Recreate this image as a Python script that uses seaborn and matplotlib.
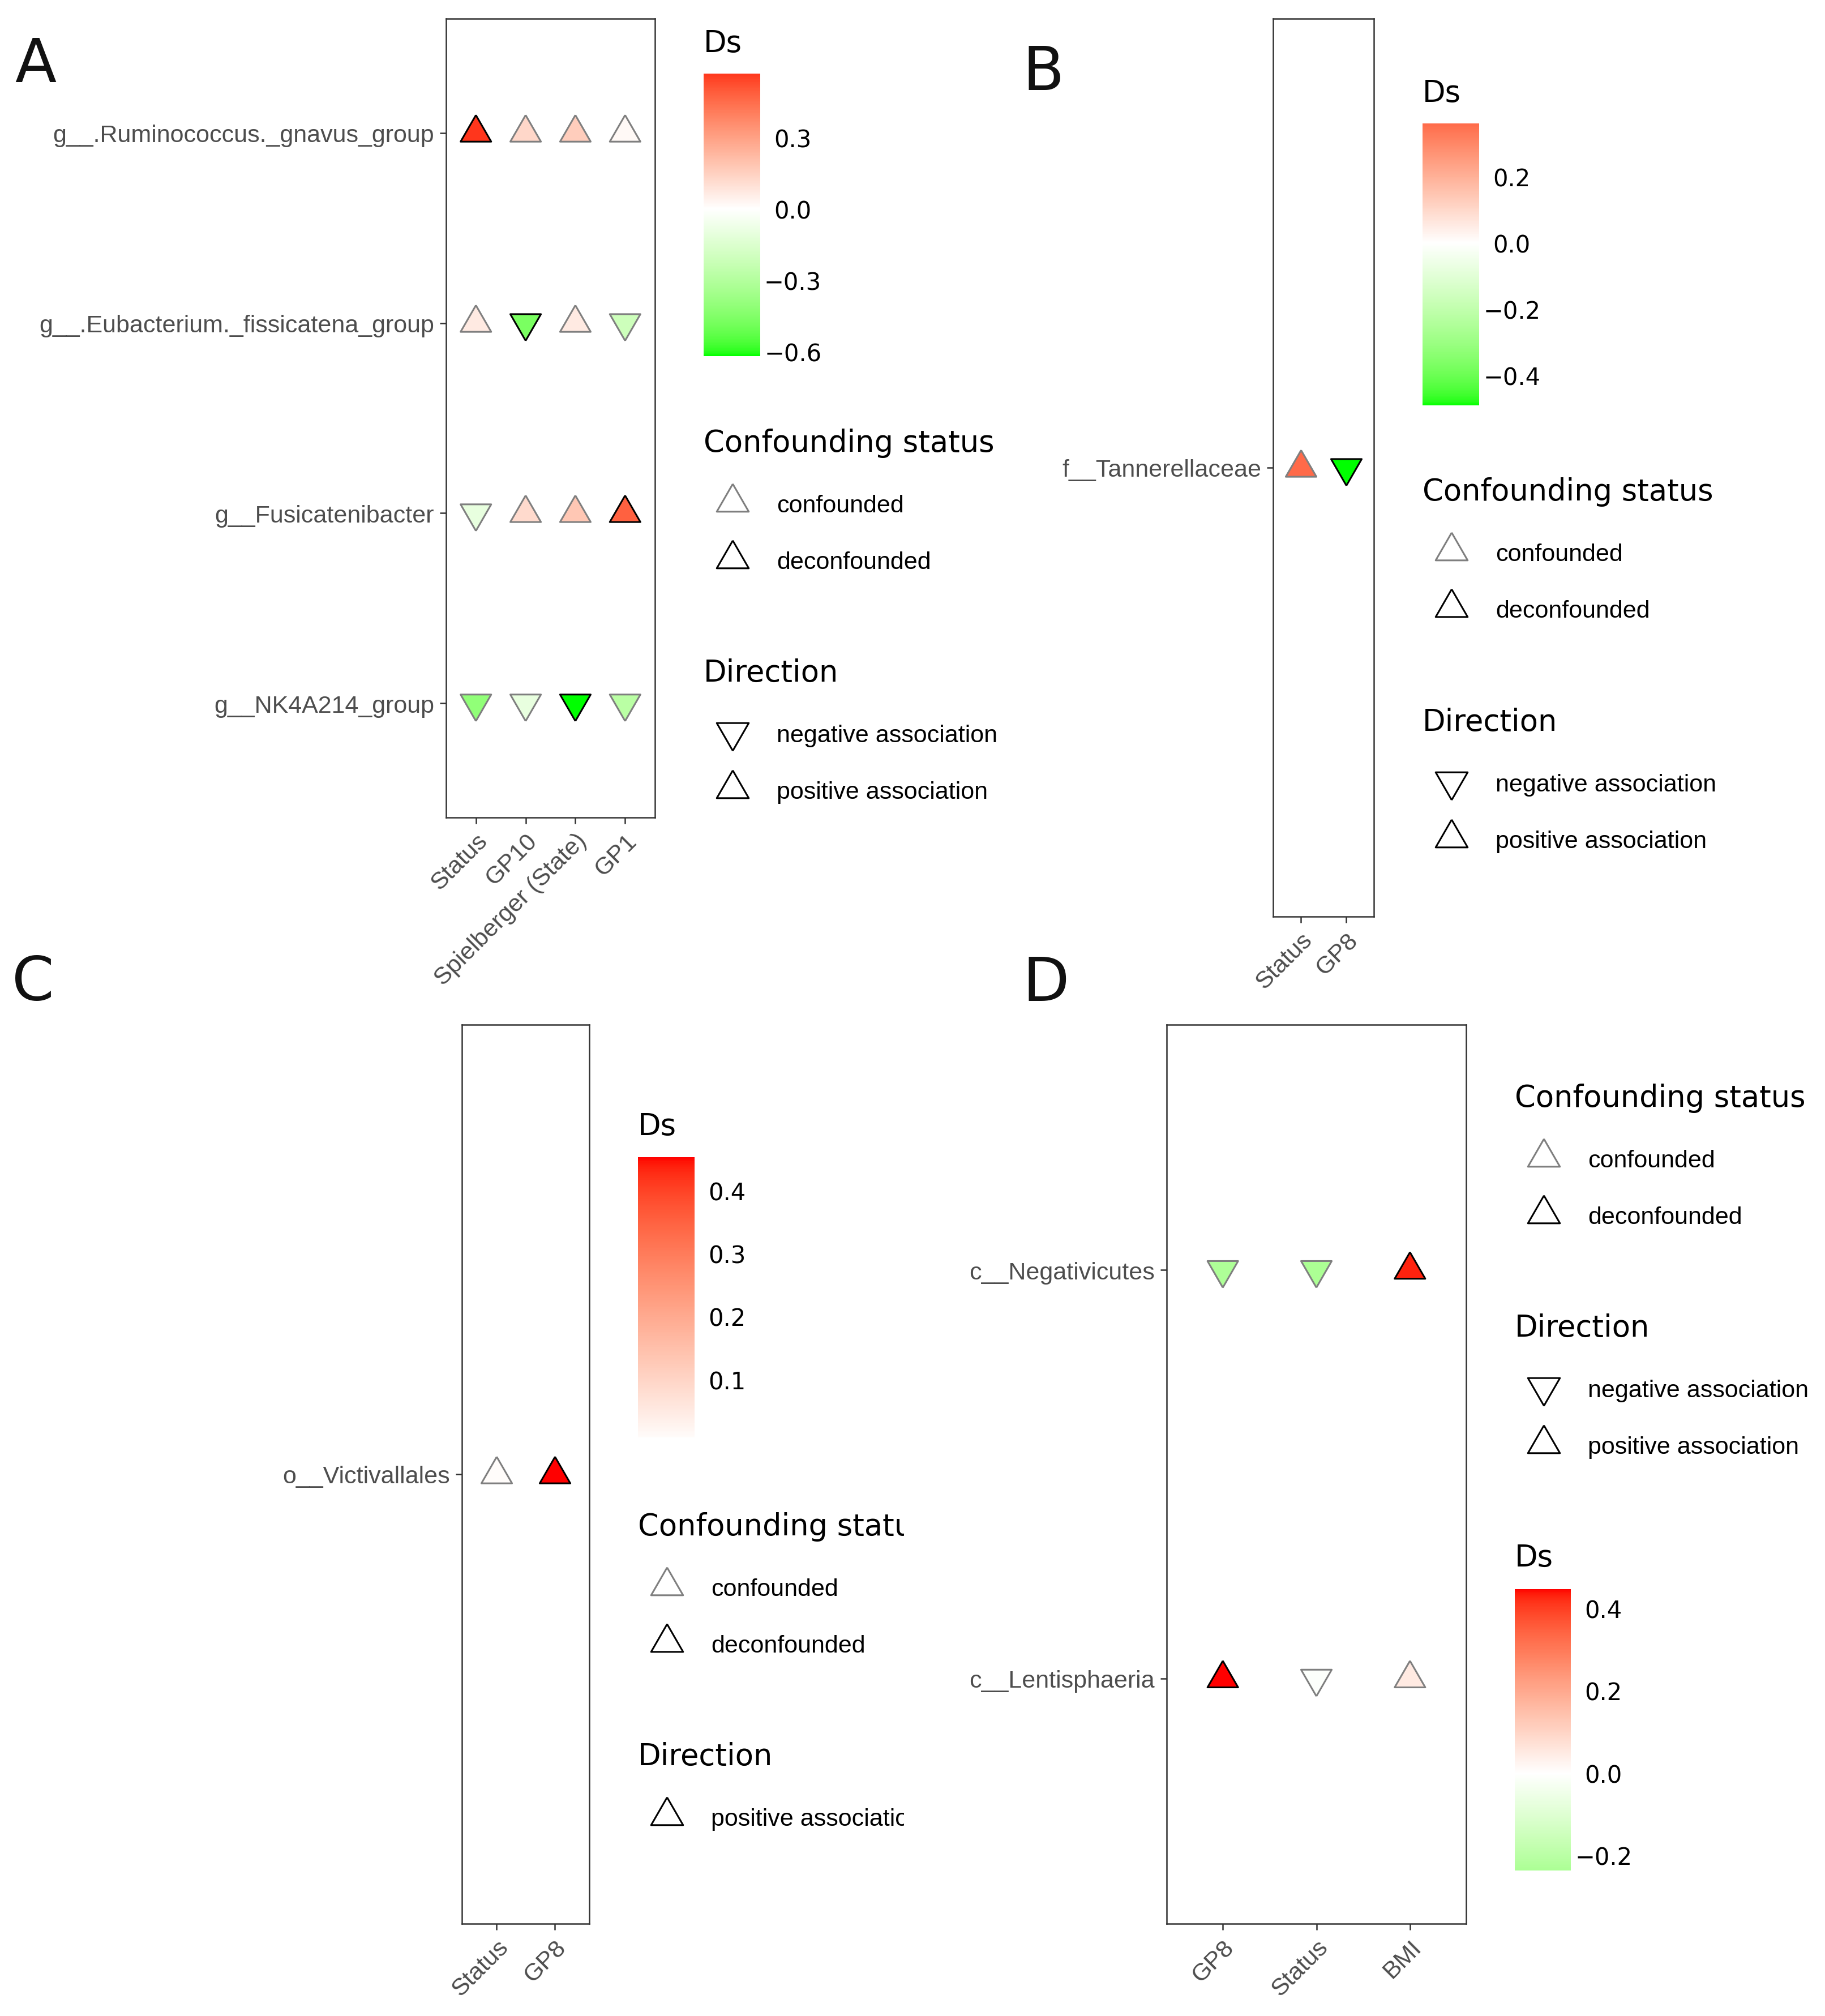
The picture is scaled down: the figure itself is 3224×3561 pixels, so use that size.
import numpy as np
import pandas as pd
import matplotlib
matplotlib.use("Agg")
import matplotlib.pyplot as plt
import seaborn as sns
from matplotlib.colors import ListedColormap, Normalize
from matplotlib.lines import Line2D
from matplotlib.transforms import Bbox
import matplotlib.cm as cm

# ---------------- data ----------------
A_covariates = ["Status", "GP10", "Spielberger (State)", "GP1"]
A_taxa = ["g__.Ruminococcus._gnavus_group", "g__.Eubacterium._fissicatena_group",
          "g__Fusicatenibacter", "g__NK4A214_group"]
A_ruminococcus = [0.57, 0.13, 0.16, 0.02]
A_eubacterium = [0.07, -0.47, 0.07, -0.21]
A_fusicatenibacter = [-0.10, 0.12, 0.18, 0.48]
A_nk4a214 = [-0.41, -0.10, -0.62, -0.28]
A_deconfounded = [[True, False, False, False], [False, True, False, False],
                  [False, False, False, True], [False, False, True, False]]
A_cbar_ticks = [-0.6, -0.3, 0.0, 0.3]

B_covariates = ["Status", "GP8"]
B_taxa = ["f__Tannerellaceae"]
B_tannerellaceae = [0.36, -0.49]
B_deconfounded = [[False, True]]
B_cbar_ticks = [-0.4, -0.2, 0.0, 0.2]

C_covariates = ["Status", "GP8"]
C_taxa = ["o__Victivallales"]
C_victivallales = [0.008, 0.453]
C_deconfounded = [[False, True]]
C_cbar_ticks = [0.1, 0.2, 0.3, 0.4]

D_covariates = ["GP8", "Status", "BMI"]
D_taxa = ["c__Negativicutes", "c__Lentisphaeria"]
D_negativicutes = [-0.23, -0.237, 0.43]
D_lentisphaeria = [0.447, -0.01, 0.05]
D_deconfounded = [[False, False, True], [True, False, False]]
D_cbar_ticks = [-0.2, 0.0, 0.2, 0.4]

# ---------------- colour map (Lab interpolation like ggplot gradient2) ----------------
_M = np.array([[0.4124564, 0.3575761, 0.1804375],
               [0.2126729, 0.7151522, 0.0721750],
               [0.0193339, 0.1191920, 0.9503041]])
_WHITE = np.array([0.95047, 1.0, 1.08883])
_D = 6 / 29


def _rgb2lab(rgb):
    c = np.asarray(rgb, float)
    lin = np.where(c <= 0.04045, c / 12.92, ((c + 0.055) / 1.055) ** 2.4)
    xyz = lin @ _M.T / _WHITE
    f = np.where(xyz > _D ** 3, np.cbrt(xyz), xyz / (3 * _D * _D) + 4 / 29)
    return np.stack([116 * f[..., 1] - 16, 500 * (f[..., 0] - f[..., 1]),
                     200 * (f[..., 1] - f[..., 2])], axis=-1)


def _lab2rgb(lab):
    L, a, b = lab[..., 0], lab[..., 1], lab[..., 2]
    fy = (L + 16) / 116
    fx = fy + a / 500
    fz = fy - b / 200
    f = np.stack([fx, fy, fz], axis=-1)
    xyz = np.where(f > _D, f ** 3, 3 * _D * _D * (f - 4 / 29)) * _WHITE
    lin = xyz @ np.linalg.inv(_M).T
    lin = np.clip(lin, 0, 1)
    c = np.where(lin <= 0.0031308, 12.92 * lin, 1.055 * lin ** (1 / 2.4) - 0.055)
    return np.clip(c, 0, 1)


_stops = np.array([0.0, 0.5, 1.0])
_labs = _rgb2lab(np.array([[0, 1, 0], [1, 1, 1], [1, 0, 0]]))
_t = np.linspace(0, 1, 512)
_lab_ramp = np.stack([np.interp(_t, _stops, _labs[:, k]) for k in range(3)], axis=-1)
CMAP = ListedColormap(_lab2rgb(_lab_ramp))

# ---------------- figure ----------------
W, H = 3224, 3562
sns.set_theme(style="white")
plt.rcParams["font.family"] = ["Liberation Sans", "DejaVu Sans"]
fig = plt.figure(figsize=(W / 100, H / 100), dpi=100)
fig.patch.set_facecolor("white")

TRI_UP = np.array([[0, 1], [-0.8660254, -0.5], [0.8660254, -0.5], [0, 1]])
TRI_DOWN = np.array([[0, -1], [0.8660254, 0.5], [-0.8660254, 0.5], [0, -1]])
MARKERS = {"positive association": TRI_UP, "negative association": TRI_DOWN}
DIR_ORDER = ["negative association", "positive association"]
GREY = "#7F7F7F"
AX_COL = "#333333"
TICK_TXT = "#4D4D4D"
TITLE_FONT = "DejaVu Sans"


def fx(x):
    return x / W


def fy(y):
    return 1 - y / H


def rect(l, t, r, b):
    return [l / W, 1 - b / H, (r - l) / W, (b - t) / H]


def long_df(taxa, covariates, rows, deconf):
    recs = []
    for taxon, vals, dec in zip(taxa, rows, deconf):
        for cov, v, d in zip(covariates, vals, dec):
            recs.append(dict(taxon=taxon, covariate=cov, Ds=v,
                             status="deconfounded" if d else "confounded",
                             direction="positive association" if v > 0 else "negative association"))
    df = pd.DataFrame(recs)
    df["taxon"] = pd.Categorical(df["taxon"], categories=taxa[::-1])
    df["covariate"] = pd.Categorical(df["covariate"], categories=covariates)
    return df


def draw_panel(df, ax_px):
    ax = fig.add_axes(rect(*ax_px))
    m = df["Ds"].abs().max()
    norm = Normalize(-m, m)
    for status, edge in [("confounded", GREY), ("deconfounded", "black")]:
        sub = df[df["status"] == status]
        if len(sub) == 0:
            continue
        sns.scatterplot(data=sub, x="covariate", y="taxon", hue="Ds", hue_norm=norm,
                        palette=CMAP, style="direction", markers=MARKERS,
                        style_order=DIR_ORDER, s=2025, edgecolor=edge, linewidth=2.2,
                        legend=False, ax=ax, zorder=3)
    nx = len(df["covariate"].cat.categories)
    ny = len(df["taxon"].cat.categories)
    ax.set_xlim(-0.6, nx - 0.4)
    ax.set_ylim(-0.6, ny - 0.4)
    ax.set_xlabel("")
    ax.set_ylabel("")
    ax.grid(False)
    for sp in ax.spines.values():
        sp.set_visible(True)
        sp.set_color(AX_COL)
        sp.set_linewidth(1.8)
    ax.tick_params(axis="both", length=8, width=1.8, color=AX_COL, labelsize=31,
                   labelcolor=TICK_TXT, pad=7, bottom=True, left=True)
    for lab in ax.get_xticklabels():
        lab.set_rotation(45)
        lab.set_ha("right")
        lab.set_va("top")
        lab.set_rotation_mode("anchor")
    return norm, df["Ds"].min(), df["Ds"].max()


def draw_cbar(norm, lo, hi, ticks, cb_px, clip=None):
    cax = fig.add_axes(rect(*cb_px))
    sm = cm.ScalarMappable(norm=norm, cmap=CMAP)
    cb = fig.colorbar(sm, cax=cax, boundaries=np.linspace(lo, hi, 400), ticks=ticks)
    cb.outline.set_visible(False)
    cax.tick_params(direction="in", length=14.4, width=0.9, color="white",
                    left=True, right=True, labelsize=30, pad=41.5)
    cax.set_yticklabels([f"{v:.1f}".replace("-", "\u2212") for v in ticks])
    for lab in cax.get_yticklabels():
        lab.set_ha("center")
        lab.set_fontfamily(TITLE_FONT)
        lab.set_color("black")


def legend_title(x, base, title, clip=None):
    t = fig.text(fx(x), fy(base), title, fontsize=38, family=TITLE_FONT,
                 va="baseline", ha="left", color="black")
    if clip is not None:
        t.set_clip_box(Bbox([[0, 0], [clip, H]]))
        t.set_clip_on(True)


def legend_block(x, base, title, entries, clip=None):
    legend_title(x, base, title, clip)
    for k, (label, marker, edge) in enumerate(entries):
        b = base + 107 + 100 * k
        fig.add_artist(Line2D([fx(x + 51)], [fy(b - 17)], marker=marker, markersize=47,
                              markerfacecolor="white", markeredgecolor=edge,
                              markeredgewidth=2.2, linestyle="none",
                              transform=fig.transFigure))
        t = fig.text(fx(x + 129), fy(b), label, fontsize=31, va="baseline",
                     ha="left", color="black")
        if clip is not None:
            t.set_clip_box(Bbox([[0, 0], [clip, H]]))
            t.set_clip_on(True)


def conf_entries():
    return [("confounded", TRI_UP, GREY), ("deconfounded", TRI_UP, "black")]


def dir_entries(df):
    present = set(df["direction"])
    return [(d, MARKERS[d], "black") for d in DIR_ORDER if d in present]


# ---------------- Panel A ----------------
dfA = long_df(A_taxa, A_covariates,
              [A_ruminococcus, A_eubacterium, A_fusicatenibacter, A_nk4a214], A_deconfounded)
normA, loA, hiA = draw_panel(dfA, (788, 34, 1157, 1445))
legend_title(1243, 92, "Ds")
draw_cbar(normA, loA, hiA, A_cbar_ticks, (1243, 131, 1343, 630))
legend_block(1243, 798, "Confounding status", conf_entries())
legend_block(1243, 1204, "Direction", dir_entries(dfA))

# ---------------- Panel B ----------------
dfB = long_df(B_taxa, B_covariates, [B_tannerellaceae], B_deconfounded)
normB, loB, hiB = draw_panel(dfB, (2249, 34, 2427, 1620))
legend_title(2513, 180, "Ds")
draw_cbar(normB, loB, hiB, B_cbar_ticks, (2513, 219, 2613, 717))
legend_block(2513, 884, "Confounding status", conf_entries())
legend_block(2513, 1291, "Direction", dir_entries(dfB))

# ---------------- Panel C ----------------
dfC = long_df(C_taxa, C_covariates, [C_victivallales], C_deconfounded)
normC, loC, hiC = draw_panel(dfC, (816, 1811, 1041, 3399))
CLIP_C = 1597
legend_title(1127, 2005, "Ds")
draw_cbar(normC, loC, hiC, C_cbar_ticks, (1127, 2045, 1227, 2540))
legend_block(1127, 2712, "Confounding status", conf_entries(), clip=CLIP_C)
legend_block(1127, 3118, "Direction", dir_entries(dfC), clip=CLIP_C)

# ---------------- Panel D ----------------
dfD = long_df(D_taxa, D_covariates, [D_negativicutes, D_lentisphaeria], D_deconfounded)
normD, loD, hiD = draw_panel(dfD, (2061, 1811, 2590, 3399))
legend_block(2676, 1955, "Confounding status", conf_entries())
legend_block(2676, 2361, "Direction", dir_entries(dfD))
legend_title(2676, 2767, "Ds")
draw_cbar(normD, loD, hiD, D_cbar_ticks, (2676, 2808, 2775, 3305))

# ---------------- panel letters ----------------
for letter, x, base in [("A", 26, 145), ("B", 1806, 159), ("C", 21, 1766), ("D", 1807, 1768)]:
    fig.text(fx(x), fy(base), letter, fontsize=77, family=TITLE_FONT,
             va="baseline", ha="left", color="#111111")

fig.savefig("out.png", dpi=100, facecolor="white")
